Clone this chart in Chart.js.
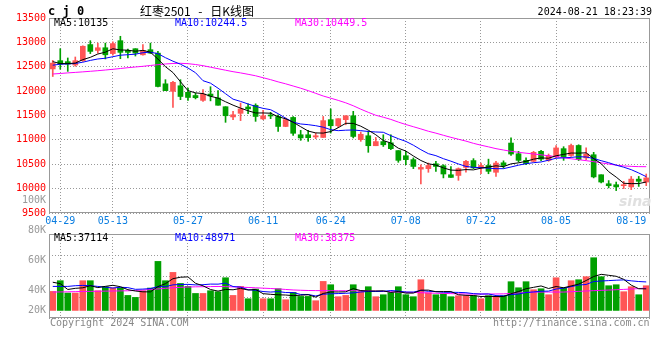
<!DOCTYPE html>
<html>
<head>
<meta charset="utf-8">
<script src="https://cdn.jsdelivr.net/npm/chart.js"></script>
<style>
  body { margin: 0; width: 660px; height: 360px; position: relative; overflow: hidden; background: #fff; }
  canvas { position: absolute; left: 0; }
  .t { position: absolute; font: 10px/12px "DejaVu Sans Mono", monospace; white-space: pre; color: #000; }
</style>
</head>
<body>
<canvas id="kline" width="660" height="232" style="top:0"></canvas>
<canvas id="vol" width="660" height="170" style="top:190px"></canvas>

<div class="t" style="left:48px;top:4px;font-weight:bold;font-size:12px;line-height:14px">c j 0</div>
<div class="t" style="left:140px;top:4px;font-family:'Noto Sans CJK SC';font-size:12px;line-height:14px;word-spacing:5px">红枣2501 - 日K线图</div>
<div class="t" style="right:8px;top:6px">2024-08-21 18:23:39</div>
<div class="t" style="left:54px;top:17px">MA5:10135</div>
<div class="t" style="left:175px;top:17px;color:#00f">MA10:10244.5</div>
<div class="t" style="left:295px;top:17px;color:#f0f">MA30:10449.5</div>
<div class="t" style="left:619px;top:193px;font:italic bold 14px 'DejaVu Sans';color:#e0e0e0">sina</div>
<div class="t" style="left:54px;top:232px">MA5:37114</div>
<div class="t" style="left:175px;top:232px;color:#00f">MA10:48971</div>
<div class="t" style="left:295px;top:232px;color:#f0f">MA30:38375</div>
<div class="t" style="left:50px;top:317px;color:#888">Copyright 2024 SINA.COM</div>
<div class="t" style="left:493px;top:317px;color:#888">http://finance.sina.com.cn</div>

<script>
// trading days shown (MM-DD)
var dates = ['04-26','04-29','04-30','05-06','05-07','05-08','05-09','05-10','05-13','05-14',
  '05-15','05-16','05-17','05-20','05-21','05-22','05-23','05-24','05-27','05-28',
  '05-29','05-30','05-31','06-03','06-04','06-05','06-06','06-07','06-11','06-12',
  '06-13','06-14','06-17','06-18','06-19','06-20','06-21','06-24','06-25','06-26',
  '06-27','06-28','07-01','07-02','07-03','07-04','07-05','07-08','07-09','07-10',
  '07-11','07-12','07-15','07-16','07-17','07-18','07-19','07-22','07-23','07-24',
  '07-25','07-26','07-29','07-30','07-31','08-01','08-02','08-05','08-06','08-07',
  '08-08','08-09','08-12','08-13','08-14','08-15','08-16','08-19','08-20','08-21'];
var tickDates = ['04-29','05-13','05-27','06-11','06-24','07-08','07-22','08-05','08-19'];
var gridDates = ['04-29','05-13','05-27','06-11','06-24','07-08','07-22','08-05'];

var open = [12455,12625,12605,12535,12625,12955,12835,12890,12770,13035,
  12835,12870,12745,12850,12780,12150,11995,12110,11975,11910,
  11810,11940,11860,11680,11470,11545,11675,11710,11430,11510,
  11480,11275,11460,11105,11105,11060,11050,11415,11290,11415,
  11495,11005,11085,10880,10965,10940,10780,10675,10595,10400,
  10410,10510,10470,10285,10270,10435,10575,10425,10475,10335,
  10530,10935,10715,10580,10560,10765,10580,10650,10820,10680,
  10885,10630,10695,10285,10100,10080,10060,10035,10195,10135];
var high = [12630,12870,12680,12700,12930,13035,12985,12985,13010,13125,
  12865,12870,12955,12985,12815,12235,12200,12235,12065,11960,
  12030,12090,12010,11680,11585,11755,11740,11740,11605,11565,
  11515,11450,11480,11195,11195,11140,11480,11635,11435,11495,
  11585,11160,11175,11050,11105,11105,10780,10765,10630,10490,
  10525,10560,10490,10450,10425,10580,10615,10525,10605,10560,
  10570,11040,10765,10630,10765,10785,10710,10885,10860,10915,
  10900,10835,10745,10285,10165,10135,10150,10250,10250,10300];
var low = [12300,12450,12405,12510,12610,12770,12780,12660,12740,12665,
  12680,12720,12735,12770,12085,12010,11665,11825,11810,11840,
  11790,11800,11710,11360,11415,11395,11535,11380,11415,11435,
  11175,11270,11090,10990,10970,11025,11050,11140,11250,11310,
  11040,10970,10745,10880,10865,10800,10540,10490,10410,10095,
  10335,10355,10220,10230,10170,10335,10410,10305,10305,10250,
  10420,10680,10545,10490,10545,10575,10560,10630,10580,10660,
  10575,10595,10220,10115,10015,9960,10000,9980,10045,10060];
var close = [12575,12555,12555,12625,12920,12815,12890,12745,12975,12795,
  12795,12780,12835,12780,12095,12010,12180,11890,11870,11865,
  11940,11900,11710,11495,11515,11635,11635,11480,11495,11490,
  11275,11415,11135,11040,11045,11085,11395,11290,11435,11495,
  11070,11115,10880,10965,10900,10820,10580,10595,10455,10435,
  10475,10455,10300,10230,10410,10560,10425,10475,10355,10525,
  10475,10710,10580,10510,10745,10605,10675,10835,10650,10885,
  10595,10710,10240,10135,10060,10035,10080,10195,10150,10220];

var ma5 = [12605,12565,12565,12575,12646,12693,12761,12799,12869,12844,
  12840,12818,12836,12798,12658,12501,12381,12192,12010,11964,
  11950,11894,11857,11782,11712,11651,11597,11552,11552,11547,
  11476,11432,11362,11270,11181,11143,11139,11171,11250,11340,
  11338,11281,11199,11105,10986,10935,10829,10771,10670,10577,
  10509,10484,10425,10380,10375,10391,10384,10420,10444,10468,
  10451,10508,10529,10560,10604,10630,10623,10674,10702,10730,
  10728,10735,10616,10513,10348,10236,10110,10102,10104,10135];
var ma10 = [12532,12552,12557,12567,12593,12630,12659,12675,12706,12737,
  12747,12758,12788,12799,12768,12686,12614,12552,12474,12378,
  12214,12163,12060,11947,11835,11789,11736,11687,11646,11619,
  11537,11445,11363,11326,11312,11291,11260,11209,11189,11199,
  11203,11189,11172,11162,11156,11086,11024,10969,10891,10799,
  10717,10676,10614,10563,10506,10456,10436,10430,10419,10409,
  10409,10444,10481,10512,10532,10547,10583,10624,10631,10641,
  10655,10649,10618,10573,10532,10481,10440,10389,10321,10245];
var ma30 = [12351,12362,12374,12384,12395,12407,12419,12433,12448,12464,
  12481,12495,12509,12526,12542,12557,12567,12571,12563,12546,
  12522,12491,12460,12429,12399,12374,12345,12315,12275,12235,
  12190,12150,12105,12060,12010,11955,11900,11855,11810,11760,
  11700,11630,11565,11505,11465,11420,11365,11315,11270,11225,
  11177,11138,11094,11052,11013,10975,10929,10891,10857,10820,
  10792,10765,10745,10727,10711,10693,10674,10656,10633,10612,
  10594,10574,10553,10529,10505,10482,10466,10457,10451,10450];

var volume = [32700,51100,29900,29900,51100,51100,33900,40800,39000,39000,
  25800,22400,33900,38500,84300,51100,65400,46400,41300,29200,
  29200,33900,32200,56200,25800,41300,20100,36800,20100,20100,
  37300,18400,31000,24100,24100,16700,49900,44200,23600,25800,
  44200,32700,40800,23600,27000,30400,40800,27000,23600,52800,
  30400,27000,28700,23600,25300,25300,25300,20100,25300,23600,
  25300,49400,39000,49400,35600,37300,27000,56200,39000,51100,
  52800,58000,90600,58000,42500,44200,32200,40800,27000,42500];
var volMa5 = [48500,46000,36000,38000,38900,42600,39200,41400,43200,40800,
  35700,33400,32000,31900,41000,46000,54600,57100,57700,46700,
  42300,36000,33200,36100,35500,37900,35100,36000,28800,27700,
  26900,26500,25400,26200,27000,22900,29200,31800,31700,32000,
  37500,34100,33400,33400,33700,30900,32500,29800,29800,34900,
  34900,32200,32500,32500,27000,26000,25600,23900,24300,23900,
  23900,28700,32500,37300,39700,42100,37700,41100,39000,42100,
  45200,51400,58300,62100,60400,58700,53500,43500,37300,37100];
var volMa10 = [41300,41300,41300,42500,43000,42500,41300,40000,38500,39900,
  39200,36300,36700,37600,40900,40900,44000,44600,44800,43900,
  44200,45300,45200,46900,41100,40100,35600,34600,32500,31600,
  32400,30800,30700,27500,27400,24900,27900,28600,29000,29500,
  30200,31700,32600,32600,32900,34200,33300,31600,31600,34300,
  32900,32400,31200,31200,31000,30500,28900,28200,28400,25500,
  25000,27200,28200,30800,31800,33000,33200,36800,38200,40900,
  43700,44600,49700,50600,51300,52000,52500,50900,49700,49000];
var volMa30 = [31600,31800,32000,32300,32600,32800,33000,33200,33400,33600,
  33800,34400,35000,36000,37000,38000,39000,39700,40300,40600,
  40800,41000,41200,40900,40500,40000,39500,38900,38300,37700,
  37000,36100,35200,34700,34300,34100,34000,33900,33900,33900,
  33900,33800,33600,33200,32800,32200,31600,31300,31000,30500,
  30000,29600,29300,28900,28500,28300,28200,28200,28200,28300,
  28500,29200,30000,30800,31500,31600,31600,31600,31600,32200,
  32800,33400,34000,34500,35000,35600,36200,36800,37500,38400];

// axis labels
var priceMin = 9500, priceMax = 13500, priceStep = 500;
var volTickLabels = ['100K', '80K', '60K', '40K', '20K'];
var volTickValues = [100000, 80000, 60000, 40000, 20000];

var UP = '#ff5555', DOWN = '#00a000', GRID = '#999';
var MONO = '"DejaVu Sans Mono", monospace';

Chart.defaults.font.family = MONO;
Chart.defaults.font.size = 10;

var candleColors = close.map(function (c, i) { return c >= open[i] ? UP : DOWN; });

function lineSet(data, color) {
  return { type: 'line', data: data, borderColor: color, borderWidth: 1,
    pointRadius: 0, fill: false, tension: 0 };
}

function gridColor(ctx) {
  return ctx.tick && gridDates.indexOf(dates[ctx.tick.value]) >= 0 ? GRID : 'rgba(0,0,0,0)';
}

var frame = {
  id: 'frame',
  afterDraw: function (chart) {
    var a = chart.chartArea, c = chart.ctx;
    c.save();
    c.strokeStyle = GRID;
    c.lineWidth = 1;
    c.strokeRect(Math.round(a.left) + 0.5, Math.round(a.top) + 0.5,
      Math.round(a.right - a.left) - 1, Math.round(a.bottom - a.top) - 1);
    c.restore();
  }
};

var kChart = new Chart(document.getElementById('kline'), {
  type: 'bar',
  data: {
    labels: dates,
    datasets: [
      lineSet(ma5, '#000'),
      lineSet(ma10, '#0000ff'),
      lineSet(ma30, '#ff00ff'),
      { data: dates.map(function (d, i) { return [open[i], close[i]]; }),
        backgroundColor: candleColors, barThickness: 5, grouped: false, minBarLength: 1 },
      { data: dates.map(function (d, i) { return [low[i], high[i]]; }),
        backgroundColor: candleColors, barThickness: 1, grouped: false }
    ]
  },
  options: {
    responsive: false,
    animation: false,
    events: [],
    layout: { padding: { top: 18, right: 10, left: 0, bottom: 0 } },
    plugins: { legend: { display: false }, tooltip: { enabled: false } },
    scales: {
      x: {
        offset: true,
        grid: { offset: false, drawTicks: false, color: gridColor },
        border: { display: false, dash: [1, 2] },
        ticks: {
          autoSkip: false, maxRotation: 0, padding: 2, color: '#0a7de0',
          callback: function (v, i) { return tickDates.indexOf(dates[i]) >= 0 ? dates[i] : ''; }
        },
        afterFit: function (s) { s.height = 19; }
      },
      y: {
        min: priceMin, max: priceMax,
        grid: { drawTicks: false, color: GRID },
        border: { display: false, dash: [1, 2] },
        ticks: { stepSize: priceStep, padding: 3, color: '#ff0000',
          callback: function (v) { return String(v); } },
        afterFit: function (s) { s.width = 49; }
      }
    }
  },
  plugins: [frame]
});

var volLabels = {
  id: 'volLabels',
  afterDraw: function (chart) {
    var c = chart.ctx, yl = chart.scales.yl, yv = chart.scales.yv;
    var base = yv.getPixelForValue(0);
    c.save();
    c.font = '10px ' + MONO;
    c.fillStyle = '#999';
    c.textAlign = 'right';
    c.textBaseline = 'middle';
    volTickValues.forEach(function (v, i) {
      c.fillText(volTickLabels[i], chart.chartArea.left - 3, Math.min(yl.getPixelForValue(v), base));
    });
    c.restore();
  }
};

var vChart = new Chart(document.getElementById('vol'), {
  type: 'bar',
  data: {
    labels: dates,
    datasets: [
      Object.assign(lineSet(volMa5, '#000'), { yAxisID: 'yv' }),
      Object.assign(lineSet(volMa10, '#0000ff'), { yAxisID: 'yv' }),
      Object.assign(lineSet(volMa30, '#ff00ff'), { yAxisID: 'yv' }),
      { data: volume, yAxisID: 'yv', backgroundColor: candleColors, barThickness: 6 }
    ]
  },
  options: {
    responsive: false,
    animation: false,
    events: [],
    layout: { padding: { top: 44, right: 10, left: 0, bottom: 42 } },
    plugins: { legend: { display: false }, tooltip: { enabled: false } },
    scales: {
      x: {
        offset: true,
        grid: { offset: false, drawTicks: false, color: gridColor },
        border: { display: false, dash: [1, 2] },
        ticks: { display: false, autoSkip: false },
        afterFit: function (s) { s.height = 0; }
      },
      yv: {
        position: 'left',
        min: -13000, max: 131400,
        grid: { drawTicks: false, color: GRID },
        border: { display: false, dash: [1, 2] },
        ticks: { display: false },
        afterBuildTicks: function (s) {
          var step = (s.max - s.min) / 4;
          s.ticks = [0, 1, 2, 3, 4].map(function (k) { return { value: s.min + k * step }; });
        },
        afterFit: function (s) { s.width = 49; }
      },
      yl: { position: 'left', display: false, min: 21800, max: 77800 }
    }
  },
  plugins: [frame, volLabels]
});
</script>
</body>
</html>
